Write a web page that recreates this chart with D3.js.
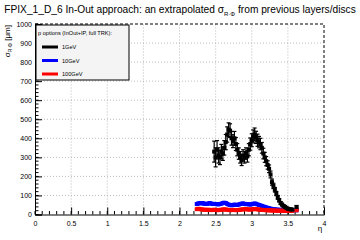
<!DOCTYPE html>
<html><head><meta charset="utf-8">
<script src="https://cdn.jsdelivr.net/npm/d3@7/dist/d3.min.js"></script>
<style>body{margin:0;background:#fff}svg{display:block;font-family:"Liberation Sans",Arial,sans-serif}</style>
</head><body><svg id="c" width="360" height="240"></svg>
<script>
const etaBins = [2.24,2.26,2.28,2.30,2.32,2.34,2.36,2.38,2.40,2.42,2.44,2.46,2.48,2.50,2.52,2.54,2.56,2.58,2.60,2.62,2.64,2.66,2.68,2.70,2.72,2.74,2.76,2.78,2.80,2.82,2.84,2.86,2.88,2.90,2.92,2.94,2.96,2.98,3.00,3.02,3.04,3.06,3.08,3.10,3.12,3.14,3.16,3.18,3.20,3.22,3.24,3.26,3.28,3.30,3.32,3.34,3.36,3.38,3.40,3.42,3.44,3.46,3.48,3.50,3.52,3.54,3.56,3.62];
const sigma10GeV = [55,58,60,58,60,57,55,56,58,60,57,55,56,55,54,53,55,57,60,62,60,56,52,50,48,50,52,51,50,52,55,57,58,56,54,55,53,52,54,56,58,56,53,50,48,45,42,40,37,35,33,31,29,28,27,26,25,25,24,24,23,23,22,22,22,21,21,22];
const sigma100GeV = [28,30,29,27,26,25,25,24,25,24,23,24,25,24,23,23,24,25,26,27,26,25,24,23,23,24,24,23,23,24,25,26,27,28,28,27,26,26,27,28,29,28,27,26,25,24,24,23,23,22,22,22,21,21,21,20,20,20,20,20,19,19,19,19,19,19,19,22];
const etaBins1GeV = [2.48,2.50,2.52,2.54,2.56,2.58,2.60,2.62,2.64,2.66,2.68,2.70,2.72,2.74,2.76,2.78,2.80,2.82,2.84,2.86,2.88,2.90,2.92,2.94,2.96,2.98,3.00,3.02,3.04,3.06,3.08,3.10,3.12,3.14,3.16,3.18,3.20,3.22,3.24,3.26,3.28,3.30,3.32,3.34,3.36,3.38,3.40,3.42,3.44,3.46,3.48,3.50,3.52,3.54,3.56,3.62];
const sigma1GeV = [330,300,340,310,300,330,320,350,380,420,445,440,400,385,400,370,340,320,300,285,310,300,320,305,340,370,390,410,420,405,390,380,370,350,320,300,280,260,240,210,170,150,130,110,90,75,60,52,45,40,35,30,28,27,26,40];
const err1GeV = [55,50,48,40,38,38,36,38,40,40,36,36,36,34,36,34,32,30,30,28,30,30,30,30,32,32,34,34,34,32,32,30,30,28,28,26,24,22,20,18,16,14,12,11,10,9,8,7,6,6,5,5,5,5,5,6];
const seriesNames = ["1GeV","10GeV","100GeV"];
const seriesColors = ["#000000","#0000ff","#ff0000"];
const xTicks = [0,0.5,1,1.5,2,2.5,3,3.5,4];
const yTicks = [0,100,200,300,400,500,600,700,800,900,1000];
const titleMain = "FPIX_1_D_6 In-Out approach: an extrapolated σ";
const titleSub = "R·Φ";
const titleEnd = " from previous layers/discs";
const legendHeader = "p options (InOut+IP, full TRK):";

const svg = d3.select("#c");
const L=35,R=324,T=24,B=214.5;
const x = d3.scaleLinear().domain([0,4]).range([L,R]);
const y = d3.scaleLinear().domain([0,1000]).range([B,T]);

// grid
const g = svg.append("g");
g.selectAll(".gx").data(xTicks.filter(d=>d>0&&d<4)).enter().append("line")
 .attr("x1",d=>x(d)).attr("x2",d=>x(d)).attr("y1",B).attr("y2",T)
 .attr("stroke","#aaa").attr("stroke-width",0.8).attr("stroke-dasharray","1,2");
g.selectAll(".gy").data(yTicks.filter(d=>d>0&&d<1000)).enter().append("line")
 .attr("x1",L).attr("x2",R).attr("y1",d=>y(d)).attr("y2",d=>y(d))
 .attr("stroke","#aaa").attr("stroke-width",0.8).attr("stroke-dasharray","1,2");

// frame top/right dashed
svg.append("path").attr("d",`M${L},${T}H${R}V${B}`).attr("fill","none")
 .attr("stroke","#000").attr("stroke-width",1).attr("stroke-dasharray","3,2");

// axes
const xAxis = d3.axisBottom(x).tickValues(xTicks).tickSize(-7).tickPadding(9).tickFormat(d3.format("~g"));
const xa = svg.append("g").attr("transform",`translate(0,${B})`).call(xAxis);
const xMinor = d3.range(0,4.0001,0.1);
xa.selectAll(".mn").data(xMinor).enter().append("line")
 .attr("x1",d=>x(d)).attr("x2",d=>x(d)).attr("y1",0).attr("y2",-3.5).attr("stroke","#000");
const yAxis = d3.axisLeft(y).tickValues(yTicks).tickSize(-7).tickPadding(3).tickFormat(d3.format("d"));
const ya = svg.append("g").attr("transform",`translate(${L},0)`).call(yAxis);
const yMinor = d3.range(0,1000.1,20);
ya.selectAll(".mn").data(yMinor).enter().append("line")
 .attr("y1",d=>y(d)).attr("y2",d=>y(d)).attr("x1",0).attr("x2",3.5).attr("stroke","#000");
[xa,ya].forEach(a=>{a.select(".domain").attr("stroke","#000");a.selectAll("text").attr("font-size",7).attr("fill","#000").attr("font-family","Liberation Sans, Arial, sans-serif");});
xa.selectAll(".tick text").attr("dy","0.3em");

// data
function drawSeries(etas, vals, errs, color){
  const s = svg.append("g");
  etas.forEach((e,i)=>{
    const v=vals[i], er=errs?errs[i]:Math.max(2,v*0.08);
    s.append("line").attr("x1",x(e)).attr("x2",x(e)).attr("y1",y(v-er)).attr("y2",y(v+er)).attr("stroke",color).attr("stroke-width",1.2);
    s.append("line").attr("x1",x(e)-2).attr("x2",x(e)+2).attr("y1",y(v+er)).attr("y2",y(v+er)).attr("stroke",color).attr("stroke-width",1.2);
    s.append("line").attr("x1",x(e)-2).attr("x2",x(e)+2).attr("y1",y(v-er)).attr("y2",y(v-er)).attr("stroke",color).attr("stroke-width",1.2);
    s.append("rect").attr("x",x(e)-2).attr("y",y(v)-2).attr("width",4).attr("height",4).attr("fill",color);
  });
}
drawSeries(etaBins,sigma10GeV,null,seriesColors[1]);
drawSeries(etaBins,sigma100GeV,null,seriesColors[2]);
drawSeries(etaBins1GeV,sigma1GeV,err1GeV,seriesColors[0]);

// title
const t = svg.append("text").attr("x",180).attr("y",13).attr("text-anchor","middle").attr("font-size",10.2).attr("fill","#000");
t.append("tspan").text(titleMain);
t.append("tspan").attr("font-size",6).attr("dy",3).text(titleSub);
t.append("tspan").attr("dy",-3).text(titleEnd);

// y label
const yl = svg.append("text").attr("transform","translate(10,25) rotate(-90)").attr("text-anchor","end").attr("font-size",8).attr("fill","#000");
yl.append("tspan").text("σ");
yl.append("tspan").attr("font-size",5).attr("dy",2).text("R·Φ");
yl.append("tspan").attr("dy",-2).text(" [μm]");
svg.append("text").attr("x",320).attr("y",231).attr("text-anchor","middle").attr("font-size",8).text("η");

// legend
const lg = svg.append("g");
lg.append("rect").attr("x",36).attr("y",25).attr("width",93).attr("height",55).attr("fill","#f4f4f4").attr("stroke","#000").attr("stroke-width",1);
lg.append("text").attr("x",38).attr("y",35).attr("font-size",5.6).text(legendHeader);
seriesNames.forEach((n,i)=>{
  const yy = 47+i*13.5;
  lg.append("line").attr("x1",42).attr("x2",58).attr("y1",yy).attr("y2",yy).attr("stroke",seriesColors[i]).attr("stroke-width",3);
  lg.append("text").attr("x",62).attr("y",yy+2).attr("font-size",5.6).text(n);
});
</script></body></html>
